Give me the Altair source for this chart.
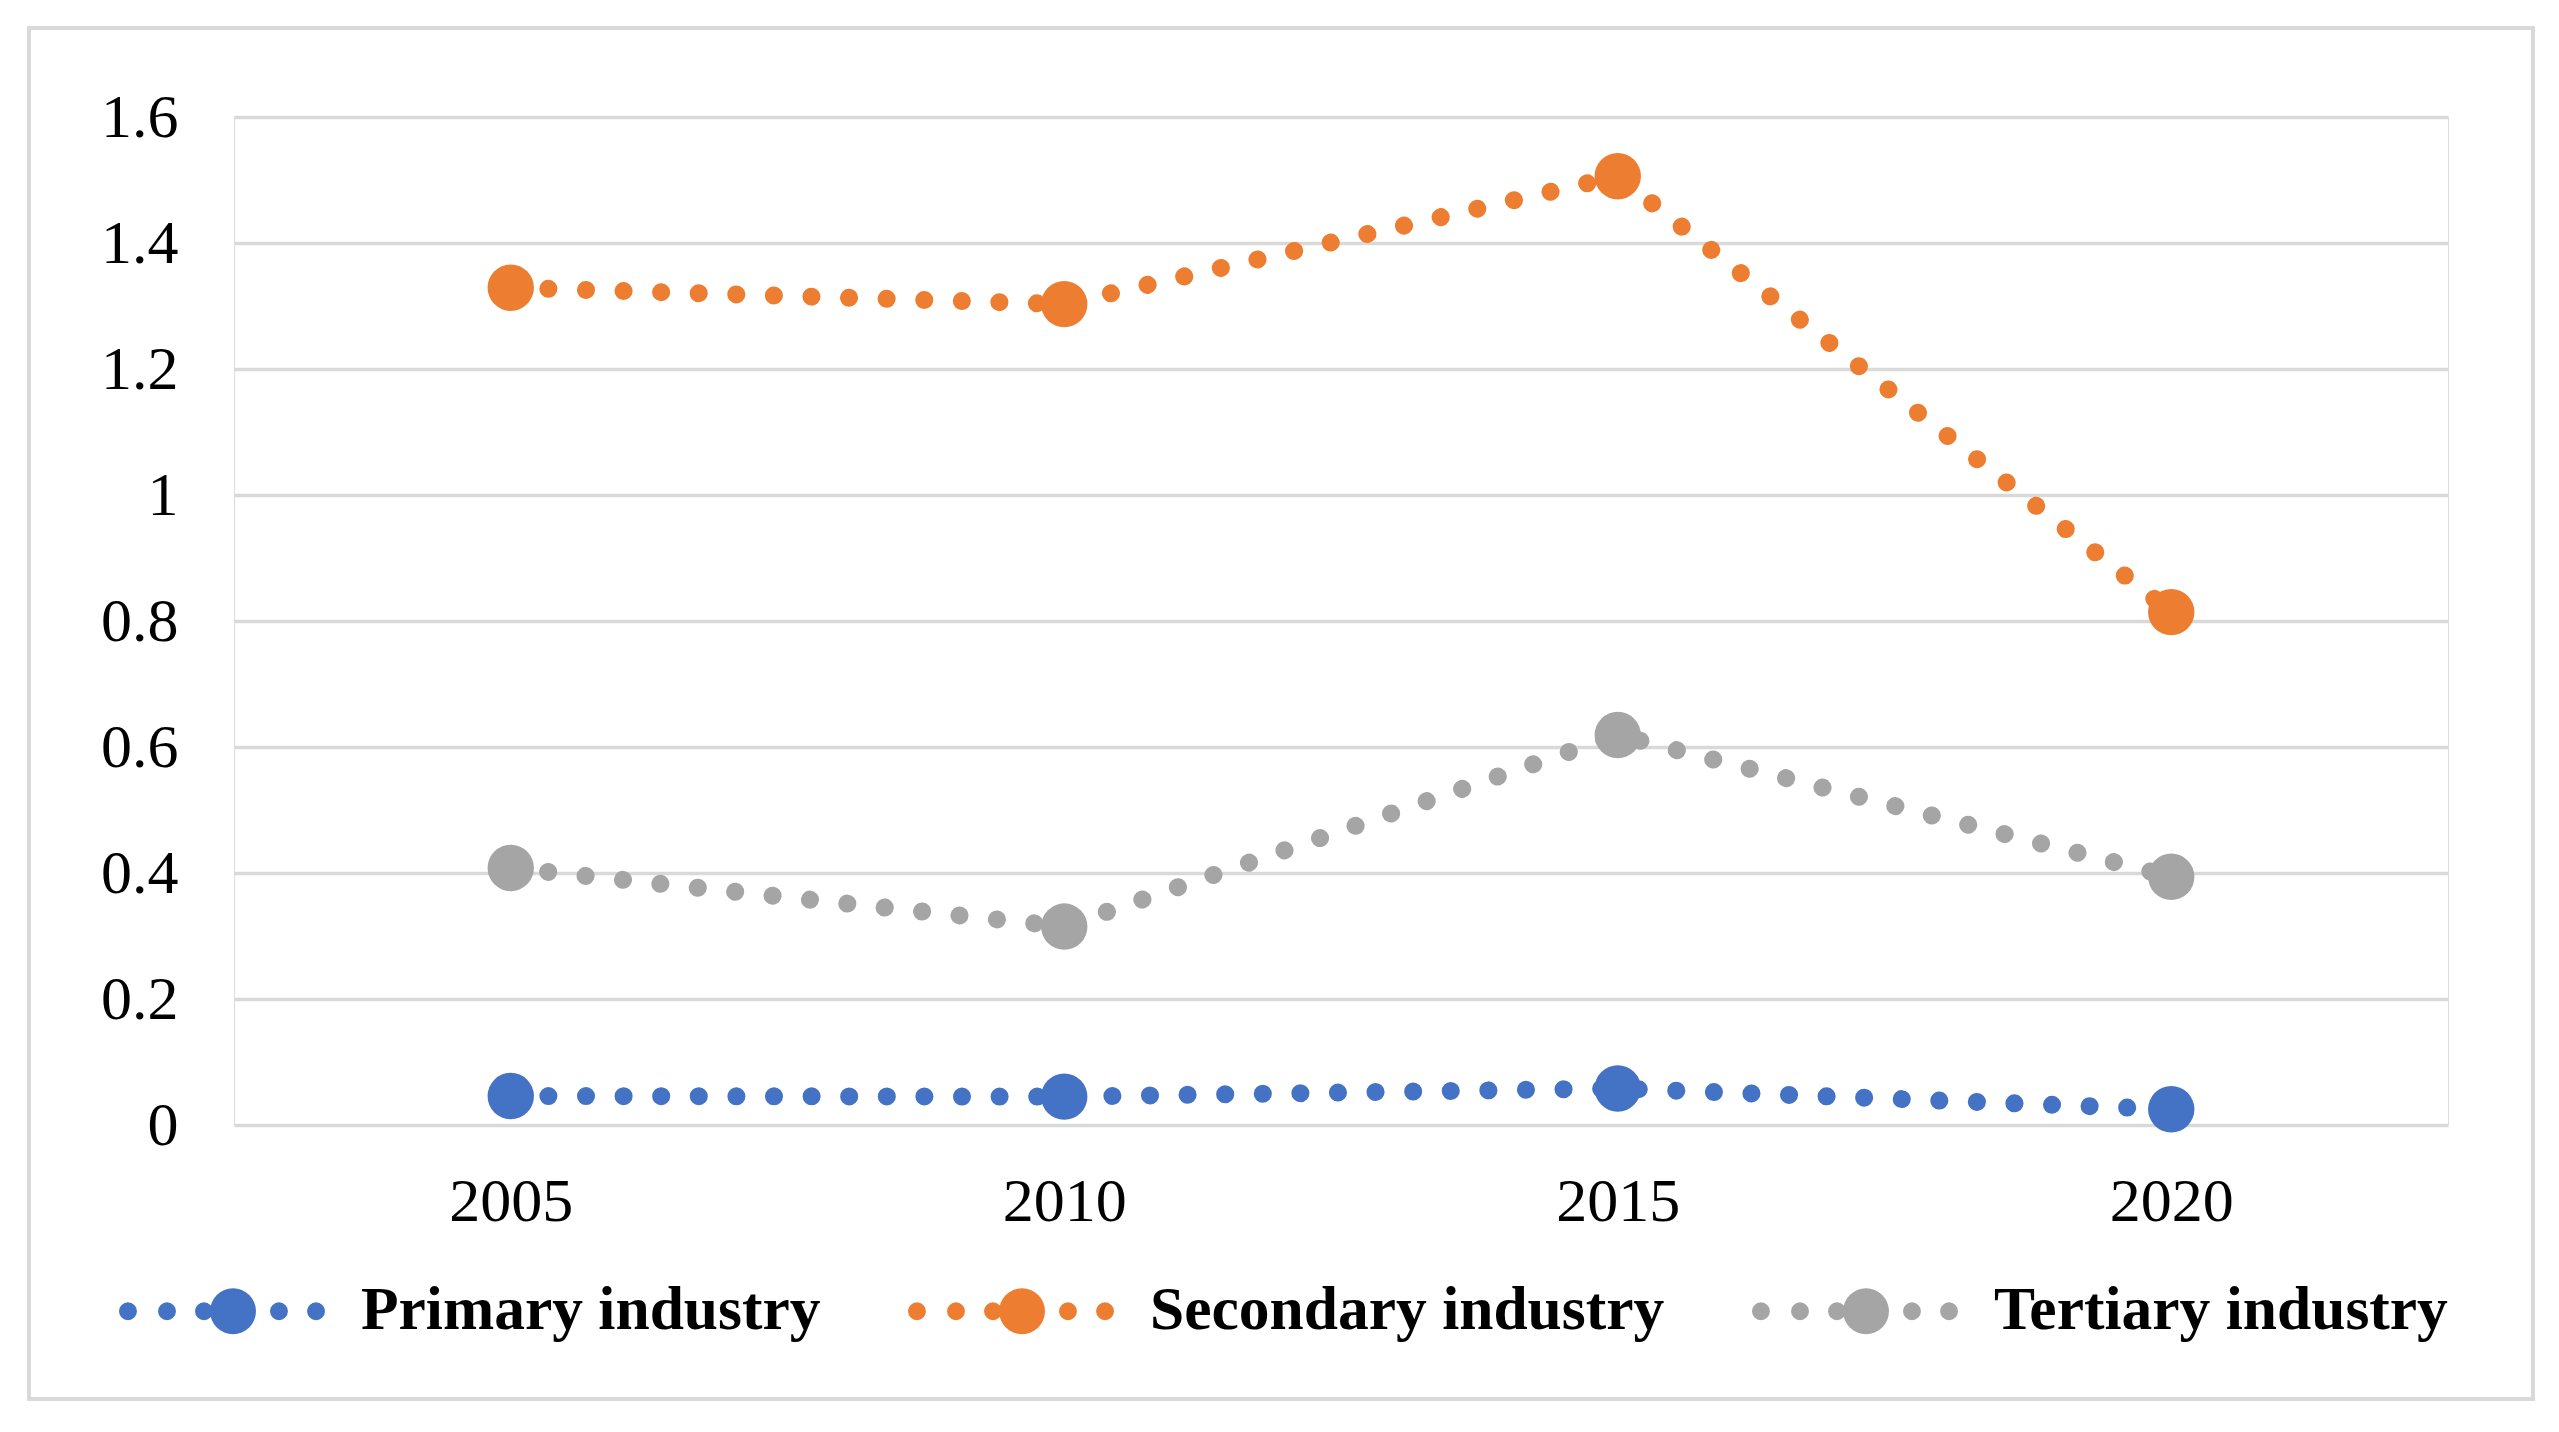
import math
import altair as alt
import pandas as pd

years = ["2005", "2010", "2015", "2020"]
industries = ["Primary industry", "Secondary industry", "Tertiary industry"]
primary = [0.046, 0.045, 0.058, 0.025]
secondary = [1.329, 1.303, 1.506, 0.814]
tertiary = [0.408, 0.315, 0.619, 0.394]
colors = ["#4472C4", "#ED7D31", "#A5A5A5"]
y_ticks = [0, 0.2, 0.4, 0.6, 0.8, 1.0, 1.2, 1.4, 1.6]

rows = []
for name, vals in zip(industries, [primary, secondary, tertiary]):
    for yr, v in zip(years, vals):
        rows.append({"industry": name, "year": yr, "value": v})
df = pd.DataFrame(rows)


def circle(cx, r, n):
    pts = []
    for k in range(n):
        a = 2 * math.pi * k / n
        pts.append(f"{cx + r * math.cos(a):.4f},{r * math.sin(a):.4f}")
    return "M" + " L".join(pts) + " Z "


small_r = 0.087
dots = [-0.913, -0.534, -0.175, 0.553, 0.913]
legend_path = "".join(circle(c, small_r, 16) for c in dots) + circle(0.107, 0.223, 32)

font = "Liberation Serif"

x_enc = alt.X("year:N", sort=years,
              scale=alt.Scale(type="point", padding=0.5),
              axis=alt.Axis(title=None, ticks=False, domain=False, grid=False,
                            labelAngle=0, labelFontSize=62, labelFont=font,
                            labelColor="#000000", labelPadding=46))
y_enc = alt.Y("value:Q",
              scale=alt.Scale(domain=[0, 1.6], nice=False, zero=True),
              axis=alt.Axis(title=None, values=y_ticks, format="~g", ticks=False,
                            domain=False, grid=True, gridColor="#D9D9D9",
                            gridWidth=3.5, labelFontSize=62, labelFont=font,
                            labelColor="#000000", labelPadding=56))

border = alt.Chart(pd.DataFrame({"a": [0]})).mark_rect(
    fill=None, stroke="#D9D9D9", strokeWidth=4, clip=False
).encode(
    x=alt.value(-205), x2=alt.value(2299), y=alt.value(-89), y2=alt.value(1282)
)

# stroke scale takes its domain from the data (same alphabetical order)
lines = alt.Chart(df).mark_line(
    strokeWidth=18, strokeDash=[0.1, 37.5], strokeCap="round"
).encode(
    x=x_enc, y=y_enc,
    stroke=alt.Stroke("industry:N", scale=alt.Scale(range=colors), legend=None),
    detail="industry:N",
)

points = alt.Chart(df).mark_point(
    filled=True, size=2150, opacity=1
).encode(
    x=x_enc, y=y_enc,
    color=alt.Color("industry:N", scale=alt.Scale(domain=industries, range=colors),
                    legend=alt.Legend(
                        title=None, orient="none", direction="horizontal",
                        legendX=-115, legendY=1091,
                        symbolType=legend_path, symbolSize=42436,
                        symbolStrokeWidth=0, symbolOpacity=1,
                        labelFont=font, labelFontSize=61.5,
                        labelFontWeight="bold", labelColor="#000000",
                        labelLimit=2000, labelOffset=36, columnPadding=87,
                        padding=0)),
)

chart = alt.layer(border, lines, points).properties(
    width=2214, height=1008,
    autosize=alt.AutoSizeParams(type="none"),
    padding={"left": 226, "top": 109, "right": 90, "bottom": 290},
).configure_view(stroke=None).configure(background="#FFFFFF")

chart.save("out.html", embed_options={"renderer": "svg", "actions": False})
